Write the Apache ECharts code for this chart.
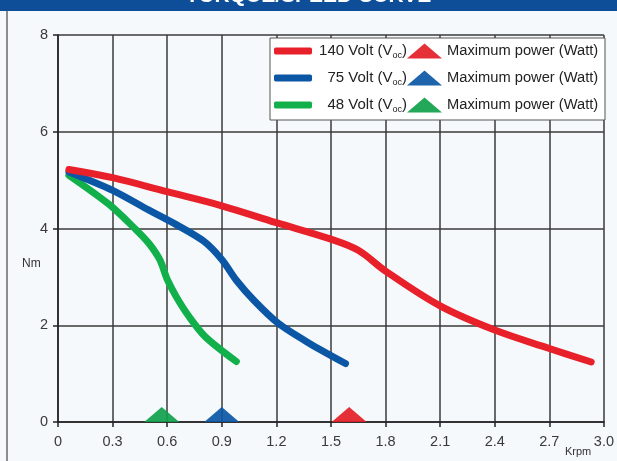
<!DOCTYPE html>
<html>
<head>
<meta charset="utf-8">
<script src="https://cdn.jsdelivr.net/npm/echarts@6/dist/echarts.min.js"></script>
<style>
html,body{margin:0;padding:0;background:#f6f9fc;}
#c{width:617px;height:461px;}
</style>
</head>
<body>
<div id="c"></div>
<script>
// ---- data ----
const chartTitle = 'TORQUE/SPEED CURVE';
const xTickLabels = ['0','0.3','0.6','0.9','1.2','1.5','1.8','2.1','2.4','2.7','3.0'];
const yTickLabels = ['0','2','4','6','8'];
const voltLabels = ['140', '75', '48'];
const speed140 = [0.06, 0.3, 0.6, 0.9, 1.2, 1.5, 1.65, 1.8, 2.1, 2.4, 2.7, 2.93];
const torque140 = [5.22, 5.05, 4.76, 4.47, 4.12, 3.78, 3.55, 3.12, 2.4, 1.9, 1.52, 1.24];
const speed75 = [0.06, 0.3, 0.5, 0.65, 0.8, 0.9, 0.98, 1.08, 1.21, 1.38, 1.58];
const torque75 = [5.17, 4.79, 4.38, 4.08, 3.74, 3.36, 2.93, 2.5, 2.04, 1.63, 1.21];
const speed48 = [0.06, 0.28, 0.43, 0.5, 0.56, 0.6, 0.65, 0.72, 0.81, 0.98];
const torque48 = [5.1, 4.5, 3.97, 3.69, 3.35, 2.95, 2.59, 2.18, 1.76, 1.25];
const maxPowerSpeed = [1.60, 0.90, 0.57];
const maxPowerTorque = [0, 0, 0];

const colors = ['#e8202a', '#0b57a6', '#12b04b'];
const triColors = ['#e31e26', '#0b57a6', '#10a04a'];
const smoothness = [0.35, 0.3, 0.3];
const FONT = '"Liberation Sans", Arial, sans-serif';

function pairs(xs, ys){ return xs.map((x,i)=>[x, ys[i]]); }
const curves = [pairs(speed140, torque140), pairs(speed75, torque75), pairs(speed48, torque48)];

const lineNames = voltLabels.map(v => v + 'V');
const triNames = voltLabels.map(v => 'mp' + v);

const series = [];
for (let i = 2; i >= 0; i--) {
  series.push({
    name: lineNames[i], type: 'line', data: curves[i], smooth: smoothness[i],
    showSymbol: false, symbol: 'none', color: colors[i],
    lineStyle: { width: 7, color: colors[i], cap: 'round', join: 'round' },
    z: 3
  });
}
for (let i = 0; i < 3; i++) {
  series.push({
    name: triNames[i], type: 'scatter', symbol: 'triangle',
    symbolSize: [35, 15], symbolOffset: [0, -7.5], color: triColors[i],
    itemStyle: { color: triColors[i], opacity: 0.92 },
    data: [[maxPowerSpeed[i], maxPowerTorque[i]]], z: 2
  });
}

const chart = echarts.init(document.getElementById('c'));
chart.setOption({
  backgroundColor: '#f6f9fc',
  animation: false,
  title: {
    text: chartTitle, left: 'center', top: -19, z: 10,
    textStyle: { color: '#ffffff', fontSize: 21, fontWeight: 'bold', fontFamily: FONT }
  },
  graphic: [
    { type: 'rect', z: 0, shape: { x: 0, y: 0, width: 617, height: 11 }, style: { fill: '#0e4e98' } },
    { type: 'line', z: 0, shape: { x1: 7, y1: 11, x2: 7, y2: 461 }, style: { stroke: '#8c8c8c', lineWidth: 2 } },
    { type: 'text', z: 5, left: 22, top: 258, style: { text: 'Nm', font: '12px ' + FONT, fill: '#333' } },
    { type: 'text', z: 5, left: 565, top: 446, style: { text: 'Krpm', font: '11px ' + FONT, fill: '#333' } }
  ],
  grid: { left: 58, right: 11, top: 35, bottom: 39 },
  xAxis: {
    type: 'value', min: 0, max: 3, interval: 0.3,
    axisLine: { show: true, lineStyle: { color: '#222', width: 1.5 } },
    axisTick: { show: true, length: 5, lineStyle: { color: '#222', width: 1.5 } },
    axisLabel: { margin: 12, color: '#3a3a3a', fontSize: 14.5, fontFamily: FONT,
      formatter: v => xTickLabels[Math.round(v / 0.3)] },
    splitLine: { show: true, lineStyle: { color: '#3a3a3a', width: 1.5 } }
  },
  yAxis: {
    type: 'value', min: 0, max: 8, interval: 2,
    axisLine: { show: true, lineStyle: { color: '#222', width: 1.5 } },
    axisTick: { show: true, length: 5, lineStyle: { color: '#222', width: 1.5 } },
    axisLabel: { margin: 10, color: '#3a3a3a', fontSize: 14.5, fontFamily: FONT,
      formatter: v => yTickLabels[Math.round(v / 2)] },
    splitLine: { show: true, lineStyle: { color: '#3a3a3a', width: 1.5 } }
  },
  legend: [
    {
      data: lineNames, orient: 'vertical', left: 270, top: 38,
      padding: [4, 198, 6, 4], itemGap: 9, itemWidth: 38, itemHeight: 7,
      icon: 'roundRect', selectedMode: false,
      backgroundColor: '#ffffff', borderColor: '#555', borderWidth: 1, z: 4,
      formatter: name => {
        const v = voltLabels[lineNames.indexOf(name)];
        return '{n|' + v + ' Volt (V}{s|oc}{n|)}';
      },
      textStyle: {
        width: 90, align: 'right', color: '#222', fontFamily: FONT, fontSize: 15, lineHeight: 18,
        rich: {
          n: { fontSize: 15, fontFamily: FONT, color: '#222', align: 'right', lineHeight: 18 },
          s: { fontSize: 9, fontFamily: FONT, color: '#222', align: 'right', verticalAlign: 'bottom', lineHeight: 18 }
        }
      }
    },
    {
      data: triNames, orient: 'vertical', left: 407, top: 42,
      padding: 0, itemGap: 9, itemWidth: 35, itemHeight: 15,
      icon: 'triangle', selectedMode: false, z: 5,
      formatter: () => 'Maximum power (Watt)',
      textStyle: { color: '#222', fontFamily: FONT, fontSize: 14.7, lineHeight: 18 }
    }
  ],
  series: series
});
</script>
</body>
</html>
